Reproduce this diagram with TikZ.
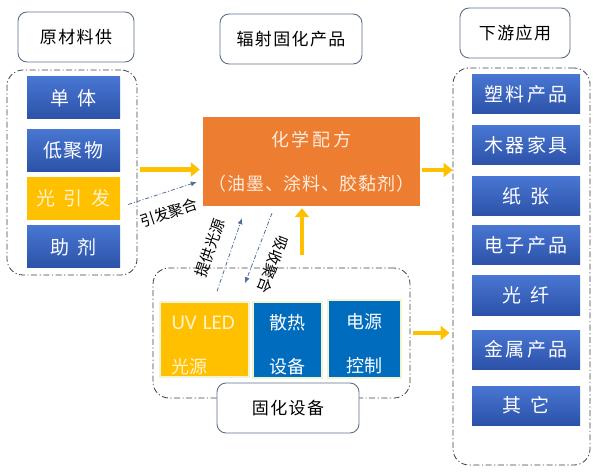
\documentclass[tikz,border=0pt]{standalone}
\usepackage{fontspec}
\setmainfont{Noto Sans CJK SC}
\newfontfamily\latinfont{Carlito}
\usetikzlibrary{arrows.meta}

\definecolor{titleedge}{RGB}{96,112,138}
\definecolor{groupedge}{RGB}{60,64,72}
\definecolor{bluetop}{RGB}{72,118,210}
\definecolor{bluebottom}{RGB}{44,82,168}
\definecolor{gold}{RGB}{255,192,0}
\definecolor{paleyellow}{RGB}{255,242,204}
\definecolor{formulaorange}{RGB}{237,125,49}
\definecolor{palecream}{RGB}{252,236,222}
\definecolor{devblue}{RGB}{0,108,190}
\definecolor{devedge}{RGB}{240,244,210}
\definecolor{arrowyellow}{RGB}{255,192,0}
\definecolor{arrowblue}{RGB}{80,108,160}

\newcommand{\chgap}{\hspace{9pt}}

\begin{document}
\begin{tikzpicture}[x=1pt, y=-1pt,
  titlebox/.style={draw=titleedge, line width=0.9pt, fill=white, rounded corners=9pt,
    minimum height=50pt, font=\fontsize{17}{18}\selectfont\addfontfeature{LetterSpace=8}},
  groupbox/.style={draw=groupedge, line width=0.8pt,
    dash pattern=on 6pt off 2.5pt on 1.2pt off 2.5pt, rounded corners=16pt},
  bluebox/.style={top color=bluetop, bottom color=bluebottom, text=white, inner sep=0pt},
  matbox/.style={bluebox, minimum width=93pt, minimum height=42pt,
    font=\fontsize{19}{20}\selectfont\addfontfeature{LetterSpace=8}},
  appbox/.style={bluebox, minimum width=108pt, minimum height=39pt,
    font=\fontsize{19}{20}\selectfont\addfontfeature{LetterSpace=12}},
  devbox/.style={fill=devblue, draw=devedge, line width=1.5pt, text=white, align=left,
    inner sep=0pt, font=\fontsize{18}{44}\selectfont},
  bigarrow/.style={draw=arrowyellow, line width=4.5pt, -{Triangle[length=9pt,width=14pt]}},
  thinarrow/.style={draw=arrowblue, line width=0.8pt,
    dash pattern=on 4pt off 2pt on 1pt off 2pt, -{Latex[length=6pt,width=5pt]}},
  arrowlabel/.style={font=\fontsize{15}{16}\selectfont, text=black, inner sep=0pt}
]
\useasboundingbox (0,0) rectangle (600,473);

% titles
\node[titlebox, minimum width=116pt] (supply) at (76,37) {原材料供};
\node[titlebox, minimum width=142pt] (product) at (291,39) {辐射固化产品};
\node[titlebox, minimum width=110pt] (downstream) at (515,33) {下游应用};

% dashed groups
\node[groupbox, minimum width=130pt, minimum height=205pt] (matgrp) at (72,172.5) {};
\node[groupbox, minimum width=137pt, minimum height=397pt] (appgrp) at (521.5,266.5) {};
\node[groupbox, minimum width=257pt, minimum height=130pt] (devgrp) at (281.5,333) {};

% raw materials
\node[matbox] (monomer) at (73.5,98) {单\chgap 体};
\node[matbox] (oligomer) at (73.5,150.5) {低聚物};
\node[matbox, top color=gold, bottom color=gold, text=paleyellow] (initiator) at (73.5,198.5) {光\chgap 引\chgap 发};
\node[matbox] (additive) at (73.5,247) {助\chgap 剂};

% formula
\node[fill=formulaorange, text=palecream, minimum width=217pt, minimum height=89pt, align=center,
  font=\fontsize{18}{44}\selectfont\addfontfeature{LetterSpace=4}] (formula) at (311.5,161.5)
  {化\hspace{3pt}学\hspace{3pt}配\hspace{3pt}方\\（油墨、涂料、胶黏剂）};

% curing devices
\node[devbox, fill=gold, text=paleyellow, minimum width=89pt, minimum height=75pt, text width=66pt]
  (uvled) at (204.5,339.5) {\rule{0pt}{25pt}{\latinfont\fontsize{21}{44}\selectfont UV LED}\\光源};
\node[devbox, minimum width=69pt, minimum height=76pt, text width=37pt]
  (cooling) at (287.5,340) {\rule{0pt}{25pt}散热\\设备};
\node[devbox, minimum width=73pt, minimum height=78pt, text width=37pt]
  (power) at (364.5,339) {\rule{0pt}{25pt}电源\\控制};
\node[titlebox, minimum width=142pt] (curing) at (288,408) {固化设备};

% applications
\node[appbox] (plastic) at (526,94.5) {塑料产品};
\node[appbox] (furniture) at (526,145.5) {木器家具};
\node[appbox] (paper) at (526,196.5) {纸\chgap 张};
\node[appbox] (electronic) at (526,245) {电子产品};
\node[appbox] (fiber) at (526,295.5) {光\chgap 纤};
\node[appbox] (metal) at (526,349.5) {金属产品};
\node[appbox] (other) at (526,405.5) {其\chgap 它};

% flows
\coordinate (matout) at ([xshift=3pt,yshift=3pt]matgrp.east);
\draw[bigarrow, shorten >=3pt] (matout) -- (matout -| formula.west);
\coordinate (formulaout) at ([xshift=2pt,yshift=-8.5pt]formula.east);
\draw[bigarrow] (formulaout) -- (formulaout -| appgrp.west);
\coordinate (devout) at ([xshift=20.5pt,yshift=13pt]devgrp.north);
\draw[bigarrow, shorten >=2pt] (devout) -- (devout |- formula.south);
\draw[bigarrow, shorten >=3pt] ([xshift=3pt]devgrp.east) -- (devgrp.east -| appgrp.west);

\draw[thinarrow] ([xshift=8pt,yshift=-6pt]initiator.east) -- ([xshift=-6pt,yshift=-20.5pt]formula.west)
  node[arrowlabel, midway, sloped, below=13pt] {引发聚合};
\draw[thinarrow] ([xshift=12.5pt,yshift=10pt]uvled.north) -- ([xshift=-69.5pt,yshift=-12pt]formula.south)
  node[arrowlabel, midway, sloped, above=13pt] {提供光源};
\draw[thinarrow] ([xshift=-39.5pt,yshift=-7pt]formula.south) -- ([xshift=40.5pt,yshift=18pt]uvled.north)
  node[arrowlabel, pos=0.64, sloped, allow upside down, above=12pt] {吸收聚合};
\end{tikzpicture}
\end{document}
